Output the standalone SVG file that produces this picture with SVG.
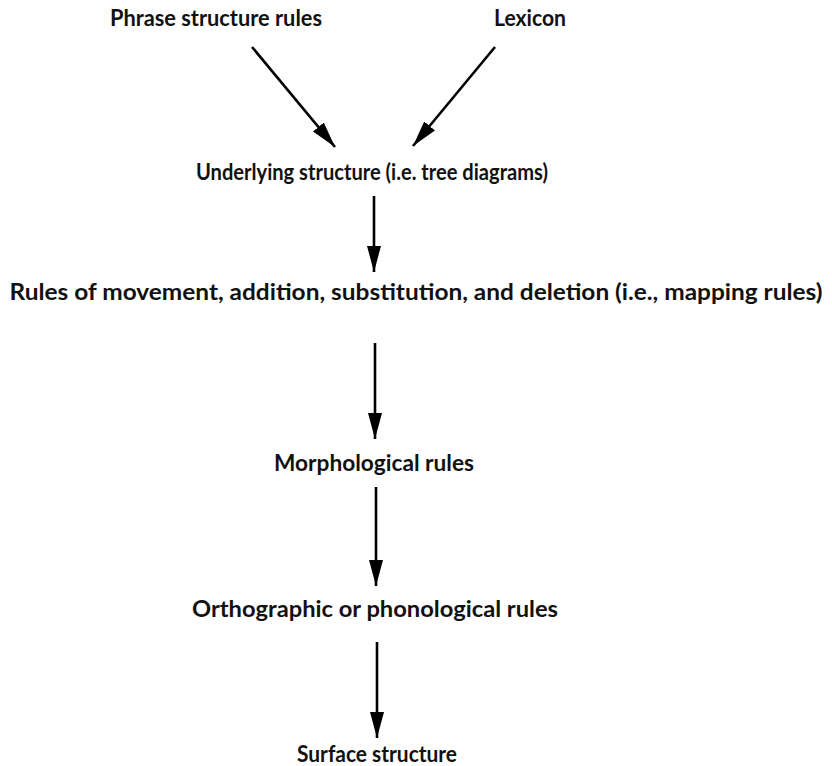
<svg xmlns="http://www.w3.org/2000/svg" width="832" height="766" viewBox="0 0 832 766">
  <defs>
    <marker id="head" viewBox="0 0 26 14" refX="26" refY="7" markerWidth="26" markerHeight="14" markerUnits="userSpaceOnUse" orient="auto">
      <path d="M0,0 L26,7 L0,14 Z" fill="#000"/>
    </marker>
  </defs>
  <style>
    .lbl { font-family: "Lato", "Open Sans", "Liberation Sans", sans-serif; font-size: 22.5px; font-weight: 700; fill: #111; text-anchor: middle; }
    .edge { stroke: #000; stroke-width: 2.6; fill: none; marker-end: url(#head); }
  </style>
  <rect width="832" height="766" fill="#fff"/>

  <!-- inputs -->
  <g id="phrase-structure-rules"><text class="lbl" x="322" y="26" style="text-anchor:end" textLength="212" lengthAdjust="spacingAndGlyphs">Phrase structure rules</text></g>
  <g id="lexicon"><text class="lbl" x="494" y="26" style="text-anchor:start" textLength="72" lengthAdjust="spacingAndGlyphs">Lexicon</text></g>

  <!-- derivation stages -->
  <g id="underlying-structure"><text class="lbl" x="372" y="180" textLength="352" lengthAdjust="spacingAndGlyphs">Underlying structure (i.e. tree diagrams)</text></g>
  <g id="mapping-rules"><text class="lbl" x="416" y="300" textLength="813" lengthAdjust="spacingAndGlyphs">Rules of movement, addition, substitution, and deletion (i.e., mapping rules)</text></g>
  <g id="morphological-rules"><text class="lbl" x="374" y="471" textLength="200" lengthAdjust="spacingAndGlyphs">Morphological rules</text></g>
  <g id="orthographic-rules"><text class="lbl" x="375" y="617" textLength="366" lengthAdjust="spacingAndGlyphs">Orthographic or phonological rules</text></g>
  <g id="surface-structure"><text class="lbl" x="377" y="762" textLength="160" lengthAdjust="spacingAndGlyphs">Surface structure</text></g>

  <g id="connectors">
    <line class="edge" x1="252" y1="47" x2="335" y2="147"/>
    <line class="edge" x1="495" y1="47" x2="413" y2="146"/>
    <line class="edge" x1="374" y1="196" x2="374" y2="272"/>
    <line class="edge" x1="375" y1="343" x2="375" y2="439"/>
    <line class="edge" x1="376" y1="487" x2="376" y2="586"/>
    <line class="edge" x1="377" y1="642" x2="377" y2="738"/>
  </g>
</svg>
